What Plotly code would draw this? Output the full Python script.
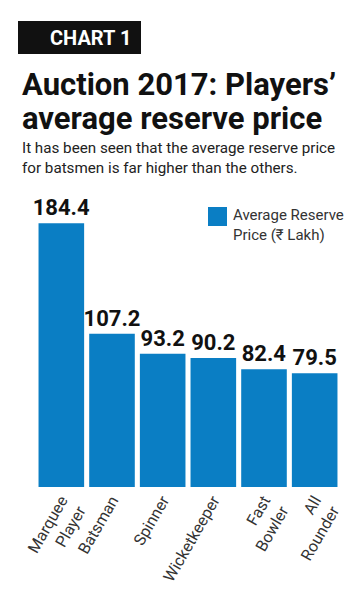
import plotly.graph_objects as go

categories = ["Marquee<br>Player", "Batsman", "Spinner", "Wicketkeeper", "Fast<br>Bowler", "All<br>Rounder"]
values = [184.4, 107.2, 93.2, 90.2, 82.4, 79.5]
series_name = "Average Reserve<br>Price (₹ Lakh)"
title_lines = ["Auction 2017: Players’", "average reserve price"]
subtitle = "It has been seen that the average reserve price<br>for batsmen is far higher than the others."

W, H = 362, 600
ML, MR, MB, MT = 36, 22, 113, 201
PW, PH = W - ML - MR, H - MT - MB

def px(x):
    return (x - ML) / PW

def py(y):
    return (H - MB - y) / PH

BLUE = "#0a7ec4"
FONT = "Roboto"

fig = go.Figure()
fig.add_trace(go.Bar(
    x=categories, y=values, name=series_name,
    marker=dict(color=BLUE, line=dict(width=0)),
    texttemplate="%{y:.1f}", textposition="outside", constraintext="none",
    textfont=dict(family=FONT, size=22, color="#111111", weight="bold"),
    cliponaxis=False, showlegend=False,
))

shapes = [
    dict(type="rect", xref="paper", yref="paper", x0=px(18), x1=px(141), y0=py(54), y1=py(21),
         fillcolor="#111111", line=dict(width=0), layer="below"),
    dict(type="rect", xref="paper", yref="paper", x0=px(208), x1=px(227), y0=py(226), y1=py(207),
         fillcolor=BLUE, line=dict(width=0)),
]

annotations = [
    dict(text="<b>CHART 1</b>", x=px(48), y=py(38), xref="paper", yref="paper", xanchor="left",
         yanchor="middle", showarrow=False, font=dict(family=FONT, size=20, color="white")),
    dict(text=f"<b>{title_lines[0]}</b>", x=px(20), y=py(64),
         xref="paper", yref="paper", xanchor="left", yanchor="top", align="left", showarrow=False,
         font=dict(family=FONT, size=31, color="#111111")),
    dict(text=f"<b>{title_lines[1]}</b>", x=px(20), y=py(98),
         xref="paper", yref="paper", xanchor="left", yanchor="top", align="left", showarrow=False,
         font=dict(family=FONT, size=31, color="#111111")),
    dict(text=subtitle,
         x=px(20), y=py(137), xref="paper", yref="paper", xanchor="left", yanchor="top", align="left",
         showarrow=False, font=dict(family=FONT, size=15.2, color="#222222")),
    dict(text=series_name, x=px(231), y=py(204), xref="paper", yref="paper", xanchor="left",
         yanchor="top", align="left", showarrow=False, font=dict(family=FONT, size=15, color="#333333")),
]

fig.update_layout(
    width=W, height=H, margin=dict(l=ML, r=MR, t=MT, b=MB, autoexpand=False),
    paper_bgcolor="white", plot_bgcolor="white",
    bargap=0.1, shapes=shapes, annotations=annotations,
    xaxis=dict(tickangle=-60, showline=False, ticks="", showgrid=False,
               tickfont=dict(family=FONT, size=16, color="#333333")),
    yaxis=dict(range=[0, 200], visible=False, showgrid=False),
)

fig.write_html("out.html")
